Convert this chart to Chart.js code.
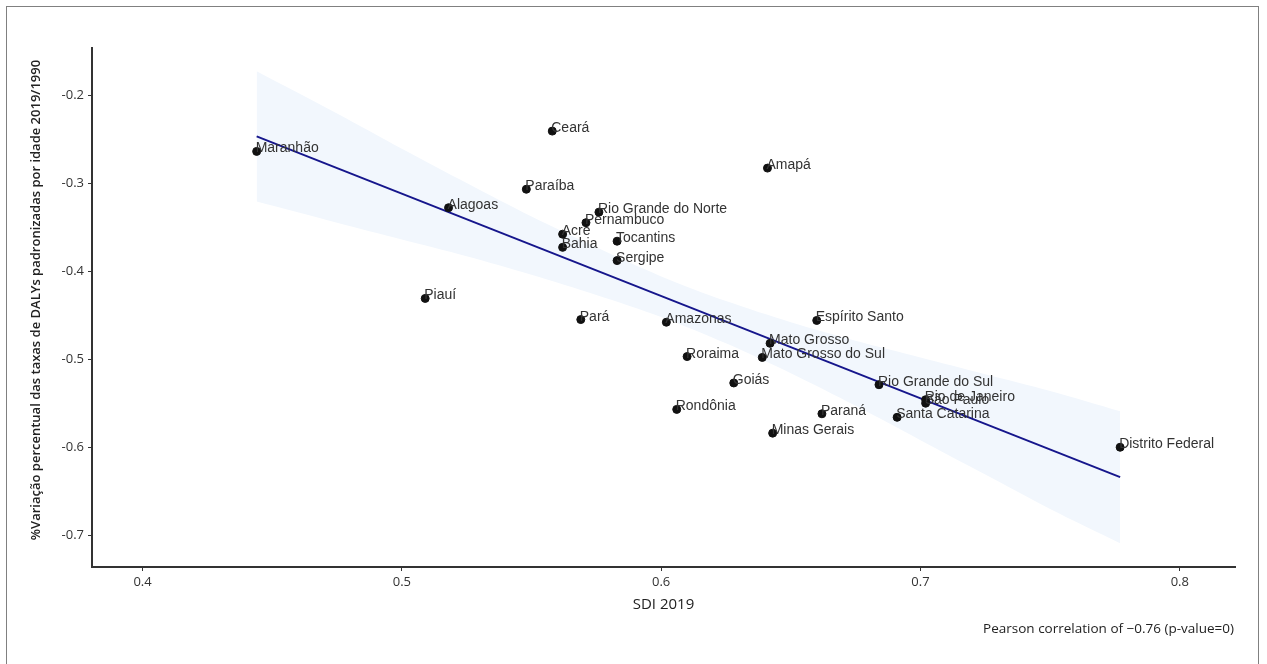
<!DOCTYPE html>
<html>
<head>
<meta charset="utf-8">
<script src="https://cdn.jsdelivr.net/npm/chart.js@4/dist/chart.umd.min.js"></script>
<style>
  html, body { margin: 0; padding: 0; background: #fff; }
  canvas { display: block; }
</style>
</head>
<body>
<canvas id="sdiChart" width="1267" height="664"></canvas>
<script>
// states, SDI 2019 and % change of age-standardised DALY rates (2019/1990)
const states = [
  "Maranhão", "Ceará", "Amapá", "Paraíba", "Alagoas", "Rio Grande do Norte",
  "Pernambuco", "Acre", "Bahia", "Tocantins", "Sergipe", "Piauí", "Pará",
  "Amazonas", "Espírito Santo", "Mato Grosso", "Mato Grosso do Sul", "Roraima",
  "Goiás", "Rio Grande do Sul", "Rio de Janeiro", "São Paulo", "Rondônia",
  "Paraná", "Santa Catarina", "Minas Gerais", "Distrito Federal"
];
const sdi = [
  0.444, 0.558, 0.641, 0.548, 0.518, 0.576,
  0.571, 0.562, 0.562, 0.583, 0.583, 0.509, 0.569,
  0.602, 0.660, 0.642, 0.639, 0.610,
  0.628, 0.684, 0.702, 0.702, 0.606,
  0.662, 0.691, 0.643, 0.777
];
const change = [
  -0.264, -0.241, -0.283, -0.307, -0.328, -0.333,
  -0.345, -0.358, -0.373, -0.366, -0.388, -0.431, -0.455,
  -0.458, -0.456, -0.482, -0.498, -0.497,
  -0.527, -0.529, -0.546, -0.550, -0.557,
  -0.562, -0.566, -0.584, -0.600
];

// fitted line ends and confidence band
const fitX = [0.444, 0.777];
const fitY = [-0.247, -0.634];
const bandX = [0.444, 0.475, 0.5, 0.525, 0.55, 0.575, 0.6, 0.625, 0.65, 0.675, 0.7, 0.725, 0.75, 0.777];
const bandUpper = [-0.173, -0.221, -0.261, -0.300, -0.338, -0.373, -0.406, -0.434, -0.458, -0.479, -0.498, -0.517, -0.536, -0.559];
const bandLower = [-0.321, -0.345, -0.364, -0.383, -0.404, -0.427, -0.452, -0.482, -0.516, -0.553, -0.592, -0.631, -0.670, -0.709];

const xTicks = [0.4, 0.5, 0.6, 0.7, 0.8];
const yTicks = [-0.2, -0.3, -0.4, -0.5, -0.6, -0.7];

const yTitle = "%Variação percentual das taxas de DALYs padronizadas por idade 2019/1990";
const xTitle = "SDI 2019";
const note = "Pearson correlation of \u22120.76 (p-value=0)";

const toXY = (xs, ys) => xs.map((x, i) => ({ x: x, y: ys[i] }));

// frame, axis titles, note and state names
const decorations = {
  id: "decorations",
  afterDatasetsDraw(chart) {
    const c = chart.ctx;
    const xs = chart.scales.x, ys = chart.scales.y;

    c.save();
    c.font = "14px 'Liberation Sans', Arial, sans-serif";
    c.fillStyle = "#333";
    c.textAlign = "left";
    c.textBaseline = "alphabetic";
    states.forEach((name, i) => {
      c.fillText(name, xs.getPixelForValue(sdi[i]) - 1, ys.getPixelForValue(change[i]) + 1);
    });
    c.restore();
  },
  afterDraw(chart) {
    const c = chart.ctx;
    const area = chart.chartArea;
    c.save();
    c.strokeStyle = "#808080";
    c.lineWidth = 1;
    c.strokeRect(6.5, 6.5, 1252, 660);

    c.fillStyle = "#222";
    c.font = "600 13px 'Open Sans', sans-serif";
    c.textAlign = "center";
    c.textBaseline = "middle";
    c.translate(36, 300);
    c.rotate(-Math.PI / 2);
    c.fillText(yTitle, 0, 0);
    c.restore();

    c.save();
    c.fillStyle = "#222";
    c.font = "15px 'Open Sans', sans-serif";
    c.textAlign = "center";
    c.textBaseline = "middle";
    c.fillText(xTitle, (area.left + area.right) / 2, 605);
    c.font = "13.5px 'Open Sans', sans-serif";
    c.textAlign = "right";
    c.fillText(note, 1234, 629);
    c.restore();
  }
};

const ctx = document.getElementById("sdiChart").getContext("2d");

new Chart(ctx, {
  type: "scatter",
  data: {
    datasets: [
      {
        label: "states",
        data: toXY(sdi, change),
        backgroundColor: "#111",
        borderColor: "#111",
        pointRadius: 4,
        order: 1
      },
      {
        label: "fit",
        data: toXY(fitX, fitY),
        showLine: true,
        borderColor: "#16168c",
        borderWidth: 2,
        pointRadius: 0,
        order: 2
      },
      {
        label: "upper",
        data: toXY(bandX, bandUpper),
        showLine: true,
        borderWidth: 0,
        borderColor: "rgba(0,0,0,0)",
        backgroundColor: "#f2f7fd",
        pointRadius: 0,
        tension: 0.3,
        fill: "+1",
        order: 3
      },
      {
        label: "lower",
        data: toXY(bandX, bandLower),
        showLine: true,
        borderWidth: 0,
        borderColor: "rgba(0,0,0,0)",
        pointRadius: 0,
        tension: 0.3,
        fill: false,
        order: 4
      }
    ]
  },
  options: {
    responsive: false,
    animation: false,
    layout: {
      padding: { top: 48, right: 32, left: 0, bottom: 0 }
    },
    plugins: {
      legend: { display: false },
      tooltip: { enabled: false }
    },
    scales: {
      x: {
        type: "linear",
        min: 0.3805,
        max: 0.8213,
        afterBuildTicks: (s) => { s.ticks = xTicks.map(v => ({ value: v })); },
        afterFit: (s) => { s.height = 97; },
        grid: {
          display: true,
          drawOnChartArea: false,
          drawTicks: true,
          tickLength: 4,
          color: "#333"
        },
        border: { display: true, color: "#333", width: 2 },
        ticks: {
          padding: 3,
          color: "#333",
          font: { family: "'Open Sans', sans-serif", size: 13 },
          callback: (v) => v.toFixed(1)
        }
      },
      y: {
        type: "linear",
        min: -0.736,
        max: -0.1466,
        afterBuildTicks: (s) => { s.ticks = yTicks.map(v => ({ value: v })); },
        afterFit: (s) => { s.width = 92; },
        grid: {
          display: true,
          drawOnChartArea: false,
          drawTicks: true,
          tickLength: 4,
          color: "#333"
        },
        border: { display: true, color: "#333", width: 2 },
        ticks: {
          padding: 4,
          color: "#333",
          font: { family: "'Open Sans', sans-serif", size: 13 },
          callback: (v) => v.toFixed(1)
        }
      }
    }
  },
  plugins: [decorations]
});
</script>
</body>
</html>
